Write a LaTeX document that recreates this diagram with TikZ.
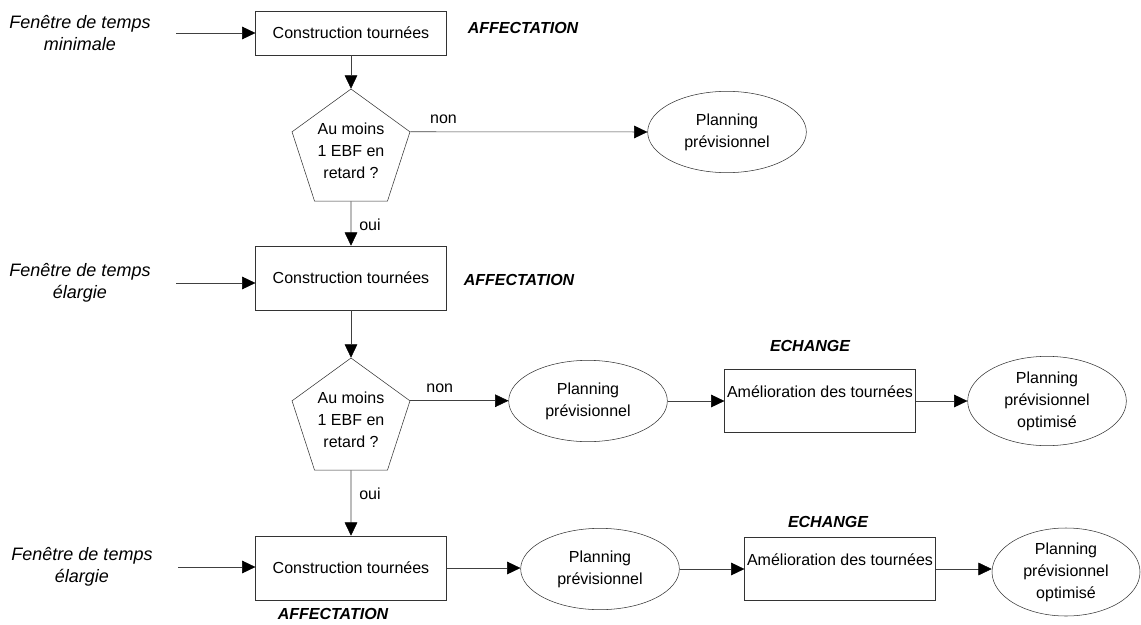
\documentclass[tikz,border=0pt]{standalone}
\usepackage{fontspec}
\setmainfont{Liberation Sans}
\usetikzlibrary{arrows.meta,shapes.geometric}

\begin{document}
\begin{tikzpicture}[x=0.75pt,y=-0.75pt,
  font=\fontsize{12}{16.5}\selectfont,
  every node/.style={inner sep=0pt, align=center},
  box/.style={draw=black!80, minimum width=143pt, minimum height=48pt},
  impbox/.style={box, minimum height=47pt, text height=9pt, text depth=14pt},
  plan/.style={draw=black!80, ellipse, minimum width=119pt, minimum height=61pt},
  test/.style={draw=black!80, regular polygon, regular polygon sides=5, minimum size=93pt},
  entry/.style={font=\fontsize{13.5}{16.5}\selectfont\itshape},
  tag/.style={font=\fontsize{12}{14}\selectfont\bfseries\itshape},
  arr/.style={draw=black!75, -{Triangle[length=10pt,width=9.5pt,color=black]}},
  lbl/.style={inner sep=6pt}
]
\useasboundingbox (0,0) rectangle (1141,624);
% first pass, minimal window
\node[entry] (in1) at (80,33) {Fenêtre de temps\\minimale};
\node[box, minimum height=33pt] (c1) at (351,33) {Construction tournées};
\node[tag] (t1) at (523,28) {AFFECTATION};
\node[test] (q1) at (351,151) {Au moins\\1 EBF en\\retard ?};
\node[plan] (p1) at (727,132) {Planning\\prévisionnel};
% second pass, wider window
\node[entry] (in2) at (80,283) {Fenêtre de temps\\élargie};
\node[box] (c2) at (351,278) {Construction tournées};
\node[tag] (t2) at (519,280) {AFFECTATION};
\node[test] (q2) at (351,420) {Au moins\\1 EBF en\\retard ?};
\node[plan] (p2) at (588,401) {Planning\\prévisionnel};
\node[tag] (e2) at (810,346) {ECHANGE};
\node[impbox] (a2) at (820,401) {Amélioration des tournées};
\node[plan, minimum height=67pt] (o2) at (1047,401) {Planning\\prévisionnel\\optimisé};
% third pass
\node[entry] (in3) at (82,567) {Fenêtre de temps\\élargie};
\node[box] (c3) at (351,568) {Construction tournées};
\node[tag] (t3) at (333,614) {AFFECTATION};
\node[plan] (p3) at (600,569) {Planning\\prévisionnel};
\node[tag] (e3) at (828,522) {ECHANGE};
\node[impbox] (a3) at (840,569) {Amélioration des tournées};
\node[plan, minimum width=111pt, minimum height=66pt] (o3) at (1066,572) {Planning\\prévisionnel\\optimisé};
% arrows
\draw[arr, shorten <=19pt] (in1.east) -- (in1.east -| c1.west);
\draw[arr] (c1.south) -- (q1.corner 1);
\draw[arr] (q1.corner 5) -- node[lbl, above, pos=0.14] {non} (p1.west);
\draw[arr] (q1.south) -- node[lbl, right, pos=0.53] {oui} (c2.north);
\draw[arr, shorten <=19pt] (in2.east) -- (in2.east -| c2.west);
\draw[arr] (c2.south) -- (q2.corner 1);
\draw[arr] (q2.corner 5) -- node[lbl, above, pos=0.3] {non} (q2.corner 5 -| p2.west);
\draw[arr] (p2.east) -- (a2.west);
\draw[arr] (a2.east) -- (a2.east -| o2.west);
\draw[arr] (q2.south) -- node[lbl, right, pos=0.35] {oui} (c3.north);
\draw[arr, shorten <=19pt] (in3.east) -- (in3.east -| c3.west);
\draw[arr] (c3.east) -- (c3.east -| p3.west);
\draw[arr] (p3.east) -- (a3.west);
\draw[arr] (a3.east) -- (a3.east -| o3.west);
\end{tikzpicture}
\end{document}
